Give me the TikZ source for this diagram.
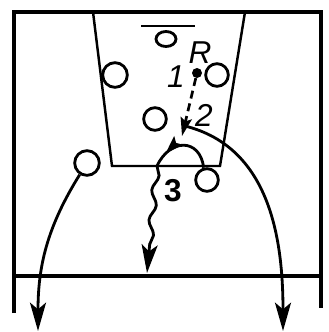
\documentclass[tikz,border=0pt]{standalone}
\usepackage{tikz}
\usepackage{fontspec}
\setsansfont{Liberation Sans}
\usetikzlibrary{arrows.meta,positioning,shapes.geometric,decorations.pathmorphing,decorations.markings}

\begin{document}
\begin{tikzpicture}[
  x=0.03cm, y=-0.03cm,
  court/.style={line width=2.6pt},
  keyline/.style={line width=2.1pt},
  pl/.style={circle, draw, line width=2.4pt, minimum size=0.68cm, inner sep=0pt},
  num/.style={font=\fontsize{27}{30}\selectfont\sffamily\itshape},
  arr/.style={-{Stealth[length=0.85cm, width=0.48cm, inset=0.2cm]}, line width=2.4pt},
  pass arr/.style={-{Stealth[length=0.55cm, width=0.34cm, inset=0.1cm]}, line width=2.3pt,
                   dash pattern=on 0.24cm off 0.15cm},
  run/.style={line width=2.4pt}
]
\useasboundingbox (0,0) rectangle (328,332);

% court and key
\draw[court] (14,313) -- (14,12) -- (321,12) -- (321,308);
\draw[court] (12,276) -- (322,276);
\draw[keyline] (93,12) -- (112,166) -- (220,166) -- (245,12);
\draw[keyline] (141,26) -- (195,26);

\node[ellipse, draw, line width=2.4pt, minimum width=0.6cm, minimum height=0.45cm, inner sep=0pt] (bk) at (166,39) {};

% players and ball
\node[pl, minimum size=0.74cm] (pa) at (115,75) {};
\node[pl] (pb) at (217,75) {};
\node[pl] (pc) at (155,119) {};
\node[pl, minimum size=0.74cm] (pd) at (87,163) {};
\node[pl] (pe) at (207,180) {};
\node[circle, fill, inner sep=0pt, minimum size=0.3cm] (ball) at (197,73) {};

\node[num] (lR) at (200,53) {R};
\node[num] (l1) at (176,77) {1};
\node[num] (l2) at (204,115) {2};
\node[num, font=\fontsize{27}{30}\selectfont\sffamily\bfseries] (l3) at (173,191) {3};

\coordinate (pass) at (182,136);
\coordinate (rstart) at (185,126);
\coordinate (cut) at (157,166);
\coordinate (dend) at (147,273);
\coordinate (lend) at (38,331);
\coordinate (rend) at (283,331);

% moves
\draw[pass arr] (ball) -- (pass);
\draw[arr] (rstart) to[out=-14, in=90] (rend);
\draw[arr] (pd) to[out=-122, in=90] (lend);
\draw[run, postaction={decorate}, decoration={markings,
      mark=at position 0.78 with {\arrow{Stealth[length=0.55cm, width=0.36cm, inset=0.1cm]}}}]
  (pe.105) .. controls (200,138) and (170,138) .. (cut);
\draw[arr, decorate, decoration={snake, amplitude=0.09cm, segment length=0.9cm, post length=0.75cm}]
  (cut) -- (dend);

\end{tikzpicture}
\end{document}
